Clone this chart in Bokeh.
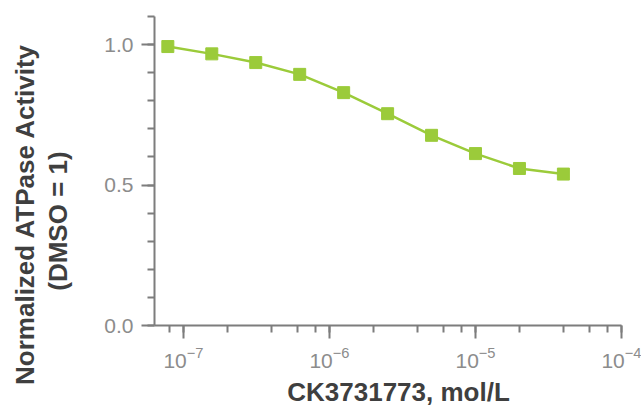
from bokeh.plotting import figure
from bokeh.models import (Range1d, LogTicker, SingleIntervalTicker, FixedTicker, LinearAxis, LogAxis,
                          ColumnDataSource, PrintfTickFormatter, CustomJSTickFormatter)
from bokeh.embed import file_html
from bokeh.resources import INLINE

# Data (concentration in mol/L, normalized activity)
concentration = [7.8125e-8, 1.5625e-7, 3.125e-7, 6.25e-7, 1.25e-6, 2.5e-6, 5e-6, 1e-5, 2e-5, 4e-5]
activity = [0.993, 0.967, 0.936, 0.894, 0.829, 0.754, 0.677, 0.612, 0.559, 0.539]
y_label_lines = ["Normalized ATPase Activity", "(DMSO = 1)"]
x_label = "CK3731773, mol/L"

GREEN = "#9BCB3A"
AXIS = "#7d7d7d"
TICKTXT = "#8c8c8c"
LABEL = "#3f3f3f"

src = ColumnDataSource(dict(x=concentration, y=activity))

p = figure(width=641, height=409, x_axis_type="log",
           x_range=Range1d(6.33e-8, 1e-4), y_range=Range1d(0, 1.1),
           output_backend="svg", toolbar_location=None,
           min_border_left=154, min_border_right=20, min_border_top=16, min_border_bottom=83)

p.outline_line_color = None
p.xgrid.visible = False
p.ygrid.visible = False
p.background_fill_color = "white"

p.line("x", "y", source=src, line_color=GREEN, line_width=2.5)
p.scatter("x", "y", source=src, marker="square", size=12, fill_color=GREEN, line_color=GREEN)

xa = p.xaxis[0]
xa.ticker = LogTicker(desired_num_ticks=4)
ya = p.yaxis[0]
ya.ticker = SingleIntervalTicker(interval=0.5, num_minor_ticks=5)
ya.formatter = PrintfTickFormatter(format="%.1f")

for ax in (xa, ya):
    ax.axis_line_color = AXIS
    ax.axis_line_width = 2
    ax.major_tick_line_color = AXIS
    ax.major_tick_line_width = 2
    ax.minor_tick_line_color = AXIS
    ax.minor_tick_line_width = 2
    ax.major_tick_in = 0
    ax.major_tick_out = 13
    ax.minor_tick_in = 0
    ax.minor_tick_out = 7
    ax.major_label_text_font = "Liberation Sans"
    ax.major_label_text_font_size = "21px"
    ax.major_label_text_color = TICKTXT
ya.major_label_standoff = 8
xa.major_label_standoff = 8


def title_axis(cls, text, pos, standoff, orientation="horizontal"):
    ax = cls(ticker=FixedTicker(ticks=[pos], minor_ticks=[]),
             formatter=CustomJSTickFormatter(code="return %r;" % text))
    ax.axis_line_color = None
    ax.major_tick_line_color = None
    ax.minor_tick_line_color = None
    ax.major_tick_in = 0
    ax.major_tick_out = 0
    ax.minor_tick_in = 0
    ax.minor_tick_out = 0
    ax.major_label_standoff = standoff
    ax.major_label_orientation = orientation
    ax.major_label_text_font = "Liberation Sans"
    ax.major_label_text_font_style = "bold"
    ax.major_label_text_font_size = "26px"
    ax.major_label_text_color = LABEL
    return ax

# Y axis title: two rotated lines (inner line first)
p.add_layout(title_axis(LinearAxis, y_label_lines[1], 0.372, 28, "vertical"), "left")
p.add_layout(title_axis(LinearAxis, y_label_lines[0], 0.397, 0, "vertical"), "left")
# X axis title
p.add_layout(title_axis(LogAxis, x_label, 2.97e-6, 6), "below")

open("out.html", "w").write(file_html(p, INLINE))
